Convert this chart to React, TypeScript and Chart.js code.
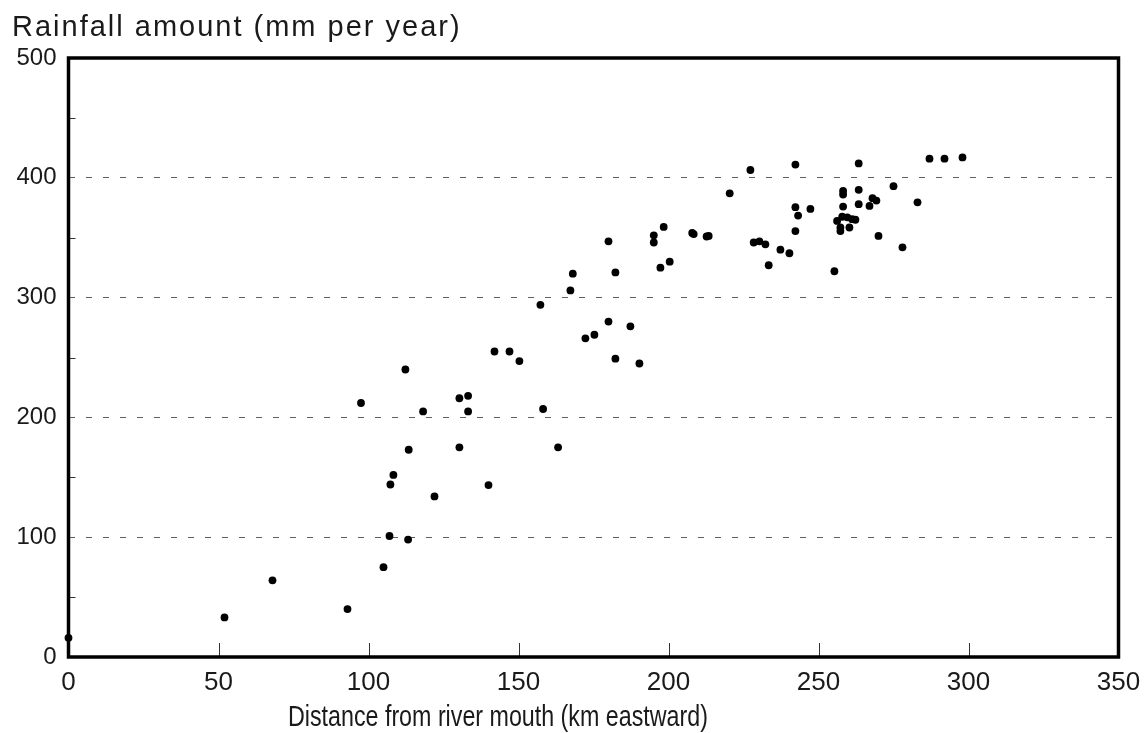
import { useEffect, useRef } from "react";
import { Chart, registerables } from "chart.js";

Chart.register(...registerables);

// Distance of each rain gauge from the river mouth (km, eastward)
const distanceKm = [
  0, 52, 68, 93, 97.5, 105, 107, 107.3, 108.3, 112.3, 113.4, 113.2, 118.2, 122,
  130.3, 130.3, 133.2, 133.2, 140, 142, 147, 150.3, 157.3, 158.2, 163.2, 167.3,
  168.1, 172.3, 175.3, 180, 180, 182.3, 182.3, 187.3, 190.3, 195.1, 195.1, 197.3,
  198.4, 200.4, 207.9, 208.4, 212.7, 213.4, 220.4, 227.3, 228.4, 230.3, 232.3,
  233.4, 237.3, 240.3, 242.3, 242.3, 243.2, 247.3, 242.3, 255.3, 263.4, 287, 292,
  298, 258.2, 258.2, 263.4, 275, 268, 269.3, 267, 263.4, 258.2, 283, 257.9, 259.6,
  261.2, 262.3, 256.2, 257.3, 257.3, 260.3, 270, 278,
];

// Annual rainfall recorded at each gauge (mm per year)
const rainfallMm = [
  16, 33, 64, 40, 212, 75, 101, 144, 152, 240, 173, 98, 205, 134, 216, 175, 218,
  205, 143.5, 255, 255, 247, 294, 207, 175, 306, 320, 266, 269, 280, 347, 249, 321,
  276, 245, 352, 346, 325, 359, 330, 354, 353, 351, 351.5, 387, 406.5, 346, 347,
  344.5, 327, 340, 337, 411, 375.5, 368.5, 374, 355.5, 322, 412, 416, 416, 417, 389,
  386, 390, 393, 383, 381, 376.5, 378, 376, 379.5, 367.5, 367, 365.5, 365, 364,
  358.5, 355.5, 358.5, 351.5, 342,
];

// Axis ranges and steps
const xRange = [0, 350];
const yRange = [0, 500];
const xStep = 50;
const yStep = 100;
const minorStep = 50;

const chartTitle = "Rainfall amount (mm per year)";
const xAxisTitle = "Distance from river mouth (km eastward)";

const TEXT = "#1a1a1a";
const SANS = "'Liberation Sans', Arial, Helvetica, sans-serif";

// Heavy frame around the plot plus short inward tick marks
const framePlugin = {
  id: "frameTicks",
  beforeDatasetsDraw(chart: any) {
    const { ctx, chartArea, scales } = chart;
    const { left, right, top, bottom } = chartArea;
    ctx.save();
    ctx.strokeStyle = "#333";
    ctx.lineWidth = 1;
    ctx.beginPath();
    for (let v = xRange[0] + xStep; v < xRange[1]; v += xStep) {
      const px = Math.round(scales.x.getPixelForValue(v)) + 0.5;
      ctx.moveTo(px, bottom);
      ctx.lineTo(px, bottom - 14);
    }
    for (let v = yRange[0] + minorStep; v < yRange[1]; v += yStep) {
      const py = Math.round(scales.y.getPixelForValue(v)) + 0.5;
      ctx.moveTo(left, py);
      ctx.lineTo(left + 7, py);
    }
    ctx.stroke();
    ctx.strokeStyle = "#000";
    ctx.lineWidth = 3.5;
    ctx.strokeRect(left, top, right - left, bottom - top);
    ctx.restore();
  },
};

// Chart heading (loosely tracked) and a condensed axis title below the ticks
const titlesPlugin = {
  id: "titles",
  afterDraw(chart: any) {
    const { ctx, chartArea } = chart;
    ctx.save();
    ctx.fillStyle = TEXT;
    ctx.textBaseline = "middle";

    ctx.font = `29px ${SANS}`;
    ctx.textAlign = "left";
    (ctx as any).letterSpacing = "2px";
    ctx.fillText(chartTitle, chartArea.left - 56.5, chartArea.top - 30);
    (ctx as any).letterSpacing = "0px";

    const cx = chartArea.left + (chartArea.right - chartArea.left) * 0.409;
    ctx.translate(cx, chartArea.bottom + 61);
    ctx.scale(0.775, 1);
    ctx.font = `30px ${SANS}`;
    ctx.textAlign = "center";
    ctx.fillText(xAxisTitle, 0, 0);
    ctx.restore();
  },
};

export default function App() {
  const canvasRef = useRef<HTMLCanvasElement | null>(null);

  useEffect(() => {
    const canvas = canvasRef.current;
    if (!canvas) return;
    const points = distanceKm.map((x, i) => ({ x, y: rainfallMm[i] }));

    const chart = new Chart(canvas, {
      type: "scatter",
      data: {
        datasets: [
          {
            data: points,
            pointRadius: 3.9,
            pointHoverRadius: 3.9,
            pointBackgroundColor: "#000",
            pointBorderWidth: 0,
            clip: false as any,
          },
        ],
      },
      options: {
        animation: false,
        responsive: false,
        events: [],
        layout: { padding: { left: 12, right: 28.5, top: 58, bottom: 0 } },
        plugins: {
          legend: { display: false },
          tooltip: { enabled: false },
          title: { display: false },
        },
        scales: {
          x: {
            type: "linear",
            min: xRange[0],
            max: xRange[1],
            ticks: {
              stepSize: xStep,
              color: TEXT,
              padding: 2,
              maxRotation: 0,
              font: { family: SANS, size: 26 },
            },
            grid: { display: false },
            border: { display: false },
            afterFit: (s: any) => {
              s.height = 76;
            },
          },
          y: {
            type: "linear",
            min: yRange[0],
            max: yRange[1],
            ticks: {
              stepSize: yStep,
              color: TEXT,
              padding: 12,
              font: { family: SANS, size: 24 },
            },
            grid: {
              drawTicks: false,
              color: "#5c5f6a",
              lineWidth: (c: any) =>
                c.tick && c.tick.value > yRange[0] && c.tick.value < yRange[1] ? 1 : 0,
            },
            border: { display: false, dash: [6, 11] },
            afterFit: (s: any) => {
              s.width = 56.5;
            },
          },
        },
      },
      plugins: [framePlugin, titlesPlugin],
    });

    return () => chart.destroy();
  }, []);

  return (
    <div style={{ position: "fixed", left: 0, top: 0, width: 1147, height: 733, background: "#fff" }}>
      <canvas ref={canvasRef} width={1147} height={733} style={{ display: "block", width: 1147, height: 733 }} />
    </div>
  );
}
